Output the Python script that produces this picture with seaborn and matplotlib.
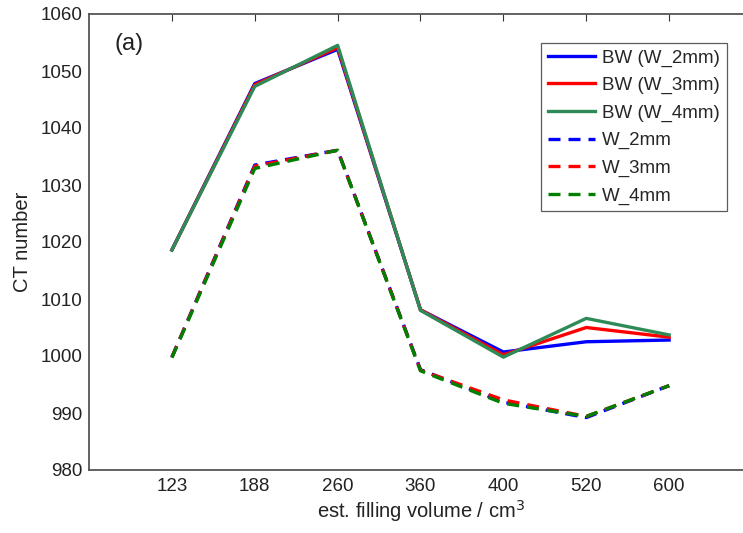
import matplotlib
matplotlib.use("Agg")
import matplotlib.pyplot as plt
import seaborn as sns
import pandas as pd
import numpy as np

# filling volumes (categorical x axis)
volumes = ["123", "188", "260", "360", "400", "520", "600"]

# CT numbers
bw_2mm = [1018.6, 1047.8, 1053.8, 1008.1, 1000.7, 1002.5, 1002.8]
bw_3mm = [1018.6, 1047.6, 1054.1, 1008.1, 1000.2, 1005.0, 1003.3]
bw_4mm = [1018.6, 1047.3, 1054.5, 1008.0, 999.8, 1006.6, 1003.7]
w_2mm = [999.8, 1033.5, 1036.1, 997.6, 991.9, 989.2, 994.8]
w_3mm = [999.8, 1033.3, 1036.1, 997.5, 992.3, 989.4, 994.8]
w_4mm = [999.7, 1032.9, 1036.1, 997.4, 991.7, 989.4, 994.8]

series = [
    ("BW (W_2mm)", bw_2mm, "#0000FF", "-"),
    ("BW (W_3mm)", bw_3mm, "#FF0000", "-"),
    ("BW (W_4mm)", bw_4mm, "#2E8B57", "-"),
    ("W_2mm", w_2mm, "#0000FF", "--"),
    ("W_3mm", w_3mm, "#FF0000", "--"),
    ("W_4mm", w_4mm, "#008000", "--"),
]

sns.set_style("white")
plt.rcParams['font.family'] = ['Liberation Sans', 'DejaVu Sans']

fig = plt.figure(figsize=(7.43, 5.33), dpi=100)
ax = fig.add_axes([89 / 743, 63 / 533, 663 / 743, 456 / 533])

pos = np.arange(1, len(volumes) + 1)
for name, vals, col, ls in series:
    df = pd.DataFrame({"x": pos, "y": vals})
    sns.lineplot(data=df, x="x", y="y", ax=ax, color=col, lw=2.4,
                 label=name, sort=False)
    line = ax.lines[-1]
    line.set_linestyle(ls)
    if ls == "--":
        line.set_dashes((3.6, 2.4))
    line.set_solid_capstyle("projecting")

ax.set_xlim(0, 8)
ax.set_ylim(980, 1060)
ax.set_xticks(pos)
ax.set_xticklabels(volumes)
ax.set_yticks(np.arange(980, 1061, 10))
ax.tick_params(direction="in", length=5, width=0.8, color="#333333",
               labelsize=13.5, labelcolor="#222222", top=True, right=True)
ax.tick_params(axis="y", pad=5)
ax.tick_params(axis="x", pad=6)
for s in ax.spines.values():
    s.set_color("#555555")
    s.set_linewidth(1.3)

ax.set_xlabel("est. filling volume / cm$^3$", fontsize=14.5, color="#222222",
              labelpad=2)
ax.set_ylabel("CT number", fontsize=14.5, color="#222222", labelpad=6)

ax.text(0.038, 0.934, "(a)", transform=ax.transAxes, fontsize=17,
        color="#222222", va="center")

leg = ax.legend(loc="upper left", bbox_to_anchor=(0.682, 0.937),
                fontsize=13.5, frameon=True, fancybox=False,
                borderpad=0.35, labelspacing=0.55, handlelength=2.5,
                handletextpad=0.4, borderaxespad=0)
leg.get_frame().set_edgecolor("#333333")
leg.get_frame().set_linewidth(0.9)

fig.savefig("out.png", dpi=100)
